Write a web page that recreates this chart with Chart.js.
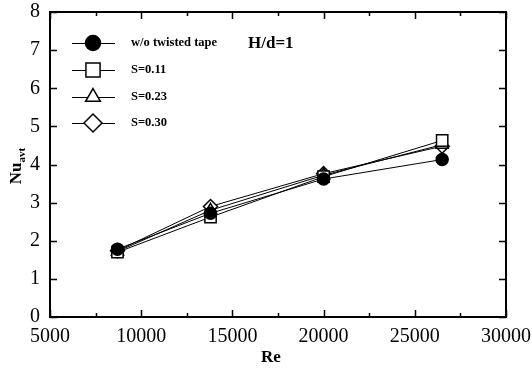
<!DOCTYPE html>
<html>
<head>
<meta charset="utf-8">
<script src="https://cdn.jsdelivr.net/npm/chart.js@4/dist/chart.umd.min.js"></script>
<style>
  body { margin: 0; background: #fff; }
</style>
</head>
<body>
<canvas id="myChart" width="532" height="372"></canvas>
<script>
// Reynolds numbers (shared by every series)
var reynolds = [8700, 13800, 20000, 26500];

// Nu_avt for each case
var nuPlain = [1.78, 2.72, 3.62, 4.13];
var nuS011 = [1.70, 2.62, 3.68, 4.63];
var nuS023 = [1.72, 2.80, 3.72, 4.52];
var nuS030 = [1.74, 2.90, 3.76, 4.48];

var seriesLabels = ["w/o twisted tape", "S=0.11", "S=0.23", "S=0.30"];
var xTicks = [5000, 10000, 15000, 20000, 25000, 30000];
var yTicks = [0, 1, 2, 3, 4, 5, 6, 7, 8];

var serif = "'Liberation Serif', 'DejaVu Serif', serif";

function points(ys) {
  return reynolds.map(function (x, i) { return { x: x, y: ys[i] }; });
}

function series(label, ys, style, radius, fill) {
  return {
    label: label,
    data: points(ys),
    showLine: true,
    borderColor: "#000",
    borderWidth: 1,
    pointStyle: style,
    pointRadius: radius,
    pointHoverRadius: radius,
    pointBackgroundColor: fill,
    pointBorderColor: "#000",
    pointBorderWidth: 1.5,
  };
}

var markers = [
  { style: "circle", r: 6, fill: "#000" },
  { style: "rect", r: 8, fill: "#fff" },
  { style: "triangle", r: 7, fill: "#fff" },
  { style: "rectRot", r: 7, fill: "#fff" },
];

// box, inward ticks, legend and titles
var decorations = {
  id: "decorations",
  afterDraw: function (chart) {
    var ctx = chart.ctx;
    var a = chart.chartArea;
    var xs = chart.scales.x, ys = chart.scales.y;
    ctx.save();
    ctx.strokeStyle = "#000";
    ctx.lineWidth = 2;
    ctx.strokeRect(a.left, a.top, a.right - a.left, a.bottom - a.top);

    ctx.lineWidth = 1.5;
    ctx.beginPath();
    for (var v = 5000; v <= 30000; v += 2500) {
      var px = Math.round(xs.getPixelForValue(v)) + 0.5;
      var len = v % 5000 === 0 ? 7 : 4;
      ctx.moveTo(px, a.bottom); ctx.lineTo(px, a.bottom - len);
      ctx.moveTo(px, a.top); ctx.lineTo(px, a.top + len);
    }
    yTicks.forEach(function (t) {
      var py = Math.round(ys.getPixelForValue(t)) + 0.5;
      ctx.moveTo(a.left, py); ctx.lineTo(a.left + 7, py);
      ctx.moveTo(a.right, py); ctx.lineTo(a.right - 7, py);
    });
    ctx.stroke();

    // legend
    var rows = [43, 70, 97, 123];
    var lm = [
      { style: "circle", r: 7.5, fill: "#000" },
      { style: "rect", r: 10, fill: "#fff" },
      { style: "triangle", r: 8.5, fill: "#fff" },
      { style: "rectRot", r: 9, fill: "#fff" },
    ];
    rows.forEach(function (y, i) {
      ctx.lineWidth = 1;
      ctx.beginPath();
      ctx.moveTo(72, y + 0.5); ctx.lineTo(115, y + 0.5);
      ctx.stroke();
      ctx.fillStyle = lm[i].fill;
      ctx.strokeStyle = "#000";
      ctx.lineWidth = 1.5;
      Chart.helpers.drawPoint(ctx, { pointStyle: lm[i].style, radius: lm[i].r, rotation: 0, borderWidth: 1.5 }, 93, y);
      ctx.fillStyle = "#000";
      ctx.font = "bold 12.5px " + serif;
      ctx.textAlign = "left";
      ctx.textBaseline = "middle";
      ctx.fillText(seriesLabels[i], 131, y);
    });

    ctx.font = "bold 17px " + serif;
    ctx.fillText("H/d=1", 248, 44);

    // axis titles
    ctx.textAlign = "center";
    ctx.fillText("Re", 271, 358);

    ctx.translate(17, 166);
    ctx.rotate(-Math.PI / 2);
    ctx.textAlign = "left";
    ctx.font = "bold 17px " + serif;
    var w1 = ctx.measureText("Nu").width;
    ctx.font = "bold 11px " + serif;
    var w2 = ctx.measureText("avt").width;
    var x0 = -(w1 + w2) / 2;
    ctx.font = "bold 17px " + serif;
    ctx.fillText("Nu", x0, 0);
    ctx.font = "bold 11px " + serif;
    ctx.fillText("avt", x0 + w1, 5);
    ctx.restore();
  },
};

var ctx = document.getElementById("myChart").getContext("2d");
var chart = new Chart(ctx, {
  type: "scatter",
  data: {
    datasets: [
      series(seriesLabels[0], nuPlain, markers[0].style, markers[0].r, markers[0].fill),
      series(seriesLabels[1], nuS011, markers[1].style, markers[1].r, markers[1].fill),
      series(seriesLabels[2], nuS023, markers[2].style, markers[2].r, markers[2].fill),
      series(seriesLabels[3], nuS030, markers[3].style, markers[3].r, markers[3].fill),
    ],
  },
  options: {
    responsive: false,
    animation: false,
    layout: { padding: { top: 12, right: 26, left: 0, bottom: 0 } },
    plugins: { legend: { display: false }, tooltip: { enabled: false } },
    scales: {
      x: {
        type: "linear",
        min: 5000,
        max: 30000,
        afterBuildTicks: function (s) { s.ticks = xTicks.map(function (v) { return { value: v }; }); },
        afterFit: function (s) { s.height = 55; s.paddingLeft = 0; s.paddingRight = 0; },
        grid: { display: false, drawTicks: false },
        border: { display: false },
        ticks: {
          color: "#000", padding: 8, maxRotation: 0, font: { family: serif, size: 20 },
          callback: function (v) { return String(v); },
        },
      },
      y: {
        min: 0,
        max: 8,
        afterBuildTicks: function (s) { s.ticks = yTicks.map(function (v) { return { value: v }; }); },
        afterFit: function (s) { s.width = 50; s.paddingTop = 0; s.paddingBottom = 0; },
        grid: { display: false, drawTicks: false },
        border: { display: false },
        ticks: { color: "#000", padding: 10, font: { family: serif, size: 20 } },
      },
    },
  },
  plugins: [decorations],
});
</script>
</body>
</html>
